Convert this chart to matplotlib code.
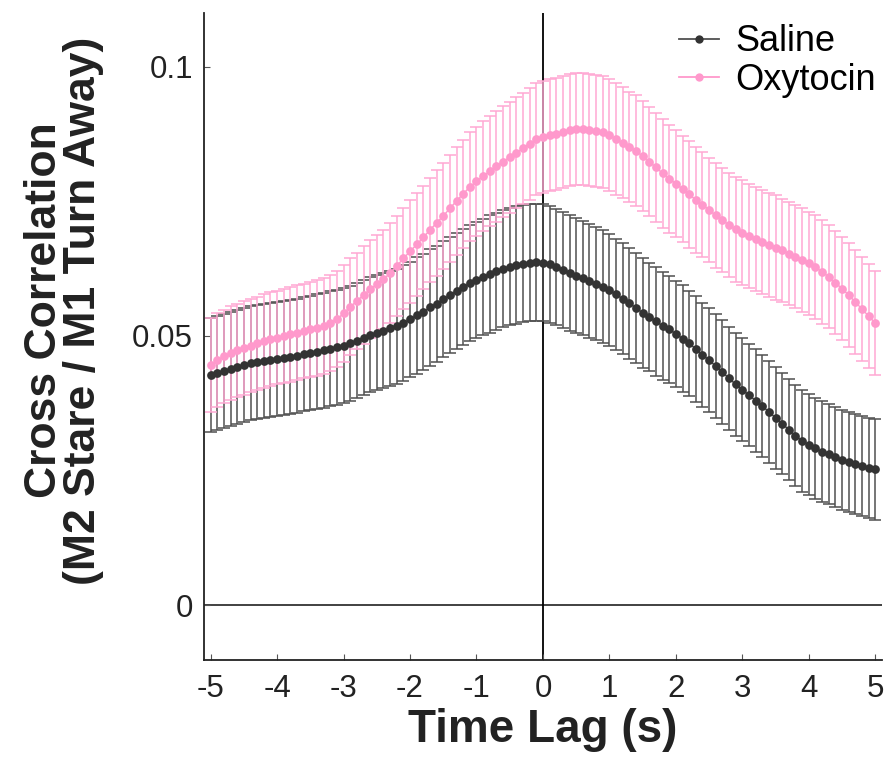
import numpy as np
import matplotlib
matplotlib.use('Agg')
import matplotlib.pyplot as plt
from matplotlib import font_manager
from matplotlib.lines import Line2D

# time lag axis, 0.1 s steps
lag = np.linspace(-5, 5, 101)

saline_mean = [
    0.0427, 0.0431, 0.0435, 0.0439, 0.0443, 0.0446, 0.0449, 0.0451, 0.0453, 0.0455,  # -5.0..-4.1
    0.0457, 0.0459, 0.0461, 0.0463, 0.0466, 0.0468, 0.0471, 0.0473, 0.0476, 0.0479,  # -4.0..-3.1
    0.0482, 0.0486, 0.0491, 0.0497, 0.0502, 0.0506, 0.0510, 0.0514, 0.0518, 0.0524,  # -3.0..-2.1
    0.0531, 0.0538, 0.0545, 0.0553, 0.0560, 0.0568, 0.0576, 0.0584, 0.0591, 0.0598,  # -2.0..-1.1
    0.0604, 0.0610, 0.0615, 0.0620, 0.0625, 0.0629, 0.0632, 0.0634, 0.0636, 0.0637,  # -1.0..-0.1
    0.0636,                                                                          # 0.0
    0.0633, 0.0628, 0.0623, 0.0617, 0.0612, 0.0607, 0.0602, 0.0597, 0.0591, 0.0585,  # 0.1..1.0
    0.0577, 0.0569, 0.0561, 0.0552, 0.0543, 0.0535, 0.0527, 0.0519, 0.0512, 0.0504,  # 1.1..2.0
    0.0495, 0.0486, 0.0476, 0.0465, 0.0455, 0.0444, 0.0433, 0.0421, 0.0410, 0.0400,  # 2.1..3.0
    0.0390, 0.0380, 0.0370, 0.0359, 0.0348, 0.0337, 0.0326, 0.0315, 0.0305, 0.0298,  # 3.1..4.0
    0.0291, 0.0285, 0.0280, 0.0275, 0.0270, 0.0266, 0.0262, 0.0258, 0.0255, 0.0252,  # 4.1..5.0
]

saline_sem = [
    0.0106, 0.0106, 0.0106, 0.0106, 0.0106, 0.0106, 0.0106, 0.0106, 0.0106, 0.0106,
    0.0106, 0.0106, 0.0106, 0.0106, 0.0106, 0.0106, 0.0107, 0.0107, 0.0107, 0.0107,
    0.0107, 0.0107, 0.0107, 0.0107, 0.0107, 0.0107, 0.0107, 0.0107, 0.0107, 0.0107,
    0.0107, 0.0108, 0.0108, 0.0108, 0.0108, 0.0108, 0.0108, 0.0108, 0.0108, 0.0108,
    0.0108, 0.0108, 0.0109, 0.0109, 0.0109, 0.0109, 0.0109, 0.0109, 0.0109, 0.0109,
    0.0109,
    0.0109, 0.0108, 0.0108, 0.0107, 0.0107, 0.0106, 0.0106, 0.0105, 0.0105, 0.0104,
    0.0104, 0.0103, 0.0103, 0.0102, 0.0102, 0.0101, 0.0101, 0.0100, 0.0100, 0.0099,
    0.0099, 0.0098, 0.0098, 0.0097, 0.0097, 0.0097, 0.0096, 0.0096, 0.0096, 0.0096,
    0.0095, 0.0095, 0.0095, 0.0095, 0.0095, 0.0094, 0.0094, 0.0094, 0.0094, 0.0094,
    0.0094, 0.0094, 0.0093, 0.0093, 0.0093, 0.0093, 0.0093, 0.0093, 0.0093, 0.0093,
]

oxytocin_mean = [
    0.0446, 0.0455, 0.0462, 0.0468, 0.0473, 0.0478, 0.0482, 0.0486, 0.0490, 0.0494,  # -5.0..-4.1
    0.0497, 0.0500, 0.0503, 0.0506, 0.0509, 0.0512, 0.0515, 0.0519, 0.0524, 0.0531,  # -4.0..-3.1
    0.0542, 0.0554, 0.0565, 0.0576, 0.0587, 0.0596, 0.0605, 0.0617, 0.0630, 0.0644,  # -3.0..-2.1
    0.0657, 0.0670, 0.0683, 0.0697, 0.0710, 0.0723, 0.0737, 0.0751, 0.0764, 0.0777,  # -2.0..-1.1
    0.0787, 0.0797, 0.0806, 0.0815, 0.0824, 0.0832, 0.0840, 0.0849, 0.0857, 0.0865,  # -1.0..-0.1
    0.0870,                                                                          # 0.0
    0.0873, 0.0876, 0.0879, 0.0882, 0.0884, 0.0884, 0.0883, 0.0881, 0.0878, 0.0873,  # 0.1..1.0
    0.0866, 0.0859, 0.0851, 0.0844, 0.0834, 0.0824, 0.0813, 0.0802, 0.0792, 0.0783,  # 1.1..2.0
    0.0773, 0.0763, 0.0753, 0.0744, 0.0734, 0.0724, 0.0715, 0.0706, 0.0698, 0.0692,  # 2.1..3.0
    0.0686, 0.0680, 0.0675, 0.0669, 0.0664, 0.0659, 0.0653, 0.0647, 0.0641, 0.0635,  # 3.1..4.0
    0.0628, 0.0619, 0.0610, 0.0599, 0.0588, 0.0576, 0.0563, 0.0550, 0.0537, 0.0524,  # 4.1..5.0
]

oxytocin_sem = [
    0.0087, 0.0087, 0.0087, 0.0087, 0.0087, 0.0087, 0.0087, 0.0087, 0.0087, 0.0087,
    0.0087, 0.0087, 0.0088, 0.0088, 0.0088, 0.0088, 0.0089, 0.0089, 0.0089, 0.0089,
    0.0090, 0.0090, 0.0090, 0.0091, 0.0091, 0.0092, 0.0092, 0.0093, 0.0093, 0.0094,
    0.0095, 0.0096, 0.0096, 0.0097, 0.0098, 0.0098, 0.0099, 0.0100, 0.0100, 0.0101,
    0.0102, 0.0102, 0.0102, 0.0103, 0.0103, 0.0103, 0.0103, 0.0103, 0.0104, 0.0104,
    0.0104,
    0.0104, 0.0104, 0.0104, 0.0104, 0.0104, 0.0104, 0.0104, 0.0104, 0.0104, 0.0104,
    0.0104, 0.0103, 0.0103, 0.0103, 0.0102, 0.0102, 0.0101, 0.0101, 0.0100, 0.0100,
    0.0099, 0.0099, 0.0098, 0.0098, 0.0097, 0.0097, 0.0097, 0.0097, 0.0097, 0.0097,
    0.0097, 0.0097, 0.0097, 0.0097, 0.0097, 0.0096, 0.0096, 0.0096, 0.0096, 0.0096,
    0.0096, 0.0096, 0.0096, 0.0096, 0.0096, 0.0096, 0.0096, 0.0096, 0.0096, 0.0096,
]

x_ticks = [-5, -4, -3, -2, -1, 0, 1, 2, 3, 4, 5]
y_ticks = [0, 0.05, 0.1]
y_ticklabels = ['0', '0.05', '0.1']

sal_dot, sal_bar = '#333333', '#505050'
oxy_dot, oxy_bar = '#ff99cc', '#ffa8d3'

names = {f.name for f in font_manager.fontManager.ttflist}
ylab_font = 'Liberation Sans Narrow' if 'Liberation Sans Narrow' in names else 'Liberation Sans'
plt.rcParams['font.family'] = ['Liberation Sans', 'DejaVu Sans']

fig = plt.figure(figsize=(8.89, 7.63), dpi=100)
ax = fig.add_axes([0.2295, 0.135, 0.7625, 0.848])

ax.axhline(0, color='#333333', lw=1.3, zorder=1)
ax.axvline(0, color='black', lw=1.3, zorder=1)

for mean, sem, bc in [(saline_mean, saline_sem, sal_bar), (oxytocin_mean, oxytocin_sem, oxy_bar)]:
    ax.errorbar(lag, mean, yerr=sem, fmt='none', ecolor=bc, elinewidth=1.1,
                capsize=4.3, capthick=1.1, zorder=2)
for mean, dc, lc in [(saline_mean, sal_dot, sal_bar), (oxytocin_mean, oxy_dot, oxy_dot)]:
    ax.plot(lag, mean, color=lc, lw=1.0, zorder=3)
    ax.plot(lag, mean, 'o', color=dc, ms=6.3, mec='none', zorder=4)

ax.set_xlim(-5.1, 5.1)
ax.set_ylim(-0.0102, 0.11)
ax.set_xticks(x_ticks)
ax.set_xticklabels([str(t) for t in x_ticks])
ax.set_yticks(y_ticks)
ax.set_yticklabels(y_ticklabels)
ax.tick_params(direction='in', length=4, width=0.8, color='#555555',
               labelsize=22.5, labelcolor='#222222')
ax.tick_params(axis='x', pad=10)
ax.tick_params(axis='y', pad=8)

for s in ['top', 'right']:
    ax.spines[s].set_visible(False)
for s in ['left', 'bottom']:
    ax.spines[s].set_linewidth(1.3)
    ax.spines[s].set_color('#222222')

ax.set_xlabel('Time Lag (s)', fontsize=33, fontweight='bold', color='#222222', labelpad=3)
ax.set_ylabel('Cross Correlation\n(M2 Stare / M1 Turn Away)', fontsize=32, fontweight='bold',
              family=[ylab_font, 'DejaVu Sans'], color='#222222', linespacing=0.95)
ax.yaxis.set_label_coords(-0.147, 0.54)

handles = [Line2D([], [], color=sal_bar, lw=1.3, marker='o', ms=6, mfc=sal_dot, mec='none'),
           Line2D([], [], color=oxy_dot, lw=1.3, marker='o', ms=6, mfc=oxy_dot, mec='none')]
ax.legend(handles, ['Saline', 'Oxytocin'], loc='upper right', frameon=False, fontsize=26,
          handlelength=1.1, handletextpad=0.45, labelspacing=0.1,
          borderaxespad=0.0, bbox_to_anchor=(1.012, 1.005))

fig.savefig('out.png', dpi=100)
